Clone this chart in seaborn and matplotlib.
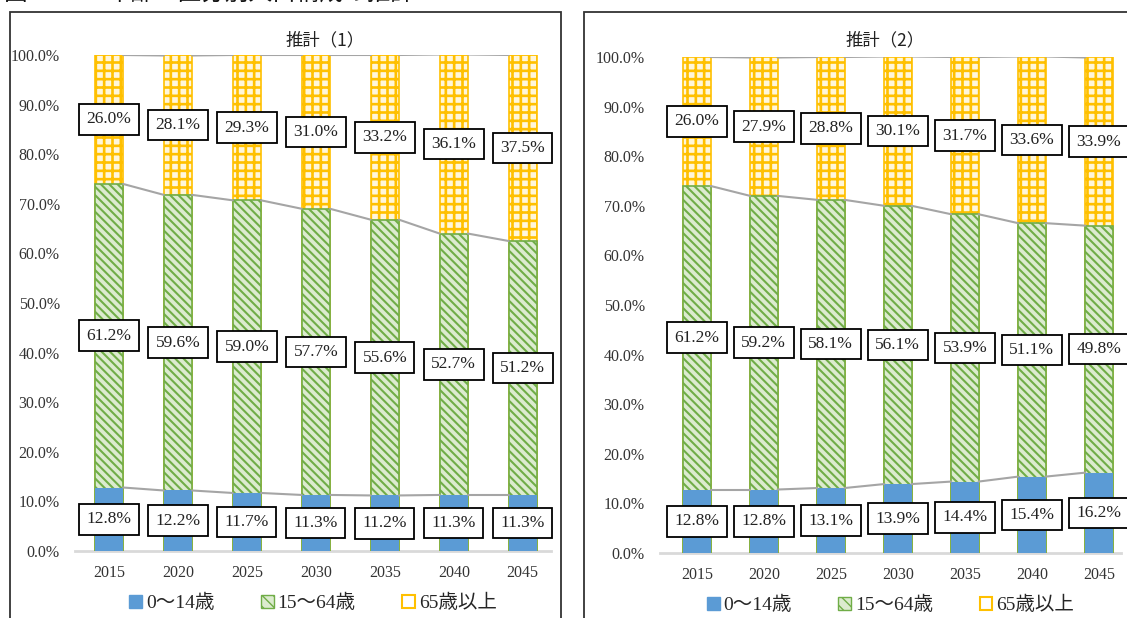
import matplotlib
matplotlib.use("Agg")
import matplotlib.pyplot as plt
import seaborn as sns
import pandas as pd
from matplotlib.patches import Patch, Rectangle

# ---- data -------------------------------------------------------------
years = ["2015", "2020", "2025", "2030", "2035", "2040", "2045"]
groups = ["0～14歳", "15～64歳", "65歳以上"]
panel_titles = ["推計（1）", "推計（2）"]

young_1 = [12.8, 12.2, 11.7, 11.3, 11.2, 11.3, 11.3]
working_1 = [61.2, 59.6, 59.0, 57.7, 55.6, 52.7, 51.2]
elderly_1 = [26.0, 28.1, 29.3, 31.0, 33.2, 36.1, 37.5]

young_2 = [12.8, 12.8, 13.1, 13.9, 14.4, 15.4, 16.2]
working_2 = [61.2, 59.2, 58.1, 56.1, 53.9, 51.1, 49.8]
elderly_2 = [26.0, 27.9, 28.8, 30.1, 31.7, 33.6, 33.9]

y_ticks = [0, 10, 20, 30, 40, 50, 60, 70, 80, 90, 100]
fig_title = "図３-２　年齢３区分別人口構成の推計"

# ---- styling ----------------------------------------------------------
sns.set_theme(style="white")
SERIF = ["Liberation Serif", "Noto Sans CJK JP"]
CJK = ["Noto Sans CJK JP", "DejaVu Sans"]
plt.rcParams["font.family"] = SERIF

BLUE = "#5B9BD5"
GREEN_EDGE = "#70AD47"
GREEN_FACE = "#DCEBCF"
GOLD_EDGE = "#FFC000"
GOLD_FACE = "#FFF6DA"
LINE_GRAY = "#A5A5A5"
BAR_W = 0.41

W, H = 1127, 618
fig = plt.figure(figsize=(W / 100, H / 100), dpi=100)


def fx(px):
    return px / W


def fy(py):
    return 1 - py / H


def draw_panel(ax, young, working, elderly, title, xlim, title_x, title_y):
    cum1 = [a for a in young]
    cum2 = [a + b for a, b in zip(young, working)]
    cum3 = [a + b + c for a, b, c in zip(young, working, elderly)]
    df = pd.DataFrame({"year": years, "c1": cum1, "c2": cum2, "c3": cum3})

    # stacked bars: draw cumulative totals from the top layer down
    with plt.rc_context({"hatch.linewidth": 1.9}):
        sns.barplot(data=df, x="year", y="c3", order=years, ax=ax, width=BAR_W,
                    color=GOLD_FACE, saturation=1, edgecolor=GOLD_EDGE,
                    hatch="++", linewidth=1.2, errorbar=None)
    with plt.rc_context({"hatch.linewidth": 1.5}):
        sns.barplot(data=df, x="year", y="c2", order=years, ax=ax, width=BAR_W,
                    color=GREEN_FACE, saturation=1, edgecolor=GREEN_EDGE,
                    hatch="\\\\\\\\", linewidth=1.2, errorbar=None)
    sns.barplot(data=df, x="year", y="c1", order=years, ax=ax, width=BAR_W,
                color=BLUE, saturation=1, linewidth=0, errorbar=None)

    # series lines joining the segment boundaries of neighbouring bars
    for level in (cum1, cum2, cum3):
        for i in range(len(years) - 1):
            ax.plot([i + BAR_W / 2, i + 1 - BAR_W / 2], [level[i], level[i + 1]],
                    color=LINE_GRAY, lw=1.5, zorder=1)

    # boxed value labels centred on each segment
    for i in range(len(years)):
        bottoms = [0, cum1[i], cum2[i]]
        for b, v in zip(bottoms, (young[i], working[i], elderly[i])):
            ax.text(i, b + v / 2, f"{v:.1f}%", ha="center", va="center",
                    fontsize=12.5, family=SERIF, color="#222222", zorder=5,
                    bbox=dict(boxstyle="square,pad=0.42", fc="white",
                              ec="black", lw=1.3))

    ax.set_xlim(*xlim)
    ax.set_ylim(0, 100)
    ax.set_yticks(y_ticks)
    ax.set_yticklabels([f"{t:.1f}%" for t in y_ticks], fontsize=11.5,
                       color="#333333")
    ax.set_xticks(range(len(years)))
    ax.set_xticklabels(years, fontsize=11.5, color="#333333")
    ax.tick_params(axis="both", length=0)
    ax.tick_params(axis="y", pad=11)
    ax.tick_params(axis="x", pad=10)
    ax.set_xlabel("")
    ax.set_ylabel("")
    for side in ("top", "right", "left"):
        ax.spines[side].set_visible(False)
    ax.spines["bottom"].set_color("#D9D9D9")
    ax.spines["bottom"].set_linewidth(2)
    ax.spines["bottom"].set_zorder(0)
    ax.grid(False)

    fig.text(title_x, title_y, title, ha="center", va="center",
             fontsize=12.5, family=CJK, color="#222222")

    handles = [
        Patch(facecolor=BLUE, edgecolor=BLUE, label=groups[0]),
        Patch(facecolor=GREEN_FACE, edgecolor=GREEN_EDGE, hatch="\\\\\\",
              label=groups[1]),
        Patch(facecolor="white", edgecolor=GOLD_EDGE, lw=1.5, label=groups[2]),
    ]
    ax.legend(handles=handles, loc="center", bbox_to_anchor=(0.5, -0.105),
              ncol=3, frameon=False, prop={"family": SERIF, "size": 14},
              handlelength=0.65, handleheight=0.65, handletextpad=0.2,
              columnspacing=2.4, borderaxespad=0)


ax1 = fig.add_axes([fx(75), fy(551), fx(551 - 75), fy(55) - fy(551)])
draw_panel(ax1, young_1, working_1, elderly_1, panel_titles[0],
           (-0.493, 6.41), fx(325), fy(40))

ax2 = fig.add_axes([fx(660), fy(553), fx(1121 - 660), fy(57) - fy(553)])
draw_panel(ax2, young_2, working_2, elderly_2, panel_titles[1],
           (-0.55, 6.33), fx(885), fy(40))

# panel frames
fig.add_artist(Rectangle((fx(10), -0.05), fx(561 - 10), fy(12) + 0.05,
                         transform=fig.transFigure, fill=False,
                         ec="#333333", lw=1.3))
fig.add_artist(Rectangle((fx(584), -0.05), fx(600), fy(12) + 0.05,
                         transform=fig.transFigure, fill=False,
                         ec="#333333", lw=1.3))

# figure caption running off the top edge
fig.text(fx(4), fy(6), fig_title, ha="left", va="bottom", fontsize=17,
         family=CJK, color="#111111")

fig.savefig("out.png", dpi=100)
